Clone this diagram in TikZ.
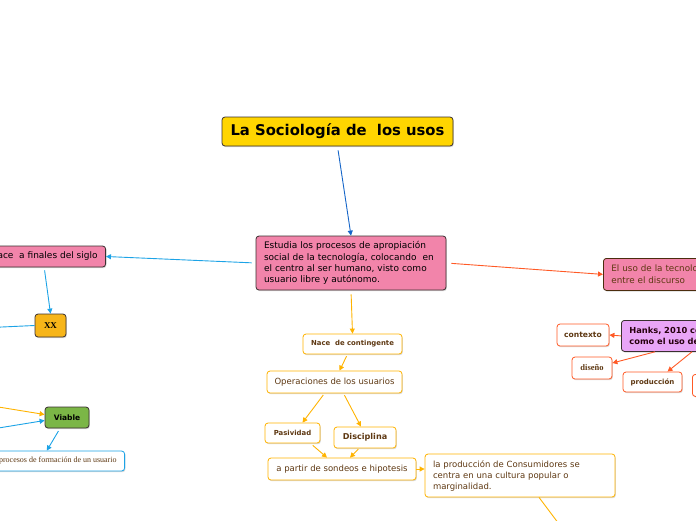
\documentclass[tikz,border=0pt]{standalone}
\usepackage{fontspec}
\setmainfont{DejaVu Sans}
\newfontfamily\serifface{Liberation Serif}
\usetikzlibrary{arrows.meta,positioning,calc,shadows}
\definecolor{TitleYellow}{HTML}{FFD500}
\definecolor{NodePink}{HTML}{F284AA}
\definecolor{XXOrange}{HTML}{F7B519}
\definecolor{ViableGreen}{HTML}{7BB646}
\definecolor{HanksLilac}{HTML}{E9A5F7}
\definecolor{LinkBlue}{HTML}{1CA3E6}
\definecolor{TitleBlue}{HTML}{1565C8}
\definecolor{LinkOrange}{HTML}{FFB300}
\definecolor{LinkRed}{HTML}{FF5A26}
\definecolor{TextBrown}{HTML}{5E3812}
\definecolor{BorderDark}{HTML}{3A3030}

\begin{document}
\begin{tikzpicture}[x=1pt,y=-1pt,
  box/.style={draw=BorderDark,line width=.8pt,rounded corners=3pt,inner sep=0pt,
    drop shadow={shadow xshift=.8pt,shadow yshift=-1.2pt,opacity=.3,fill=gray}},
  leaf/.style={box,fill=white,text=TextBrown},
  arr/.style={line width=.9pt,-{Triangle[length=5pt,width=5pt]}}]
\useasboundingbox (0,0) rectangle (696,520);

% tema central
\node[box,fill=TitleYellow,minimum width=231,minimum height=29,
  font=\fontsize{14.8}{16}\selectfont\bfseries] (title) at (337.5,131.5) {La Sociología de\ \ los usos};
\node[box,fill=NodePink,minimum width=190,minimum height=54,text width=174,align=left,
  font=\fontsize{9}{11.2}\selectfont] (central) at (351,263)
  {Estudia los procesos de apropiación\\social de la tecnología, colocando\ \ en\\el centro al ser humano, visto como\\usuario libre y autónomo.};

% rama izquierda
\node[box,fill=NodePink,anchor=east,minimum height=21,inner xsep=8pt,font=\fontsize{9}{10}\selectfont] (siglo) at (106,256.5) {Nace\ \ a finales del siglo};
\node[box,fill=XXOrange,minimum width=31,minimum height=23,font=\serifface\fontsize{9}{10}\selectfont\bfseries] (xx) at (50.5,325.5) {XX};
\node[box,fill=ViableGreen,minimum width=44,minimum height=21,font=\fontsize{7.5}{8}\selectfont\bfseries] (viable) at (67,417.5) {Viable};
\node[leaf,draw=LinkBlue,anchor=east,minimum height=20,inner xsep=8pt,font=\serifface\fontsize{8}{9}\selectfont] (formacion) at (125,461) {procesos de formación de un usuario};
\coordinate (xxout) at (-20,328);
\coordinate (vin1) at (-20,404);
\coordinate (vin2) at (-20,431);

% rama derecha
\node[box,draw=TextBrown!80!black,fill=NodePink,text=TextBrown,anchor=north west,minimum height=32,
  text width=150,inner xsep=8pt,align=left,font=\fontsize{8.8}{12}\selectfont] (discurso) at (603,258)
  {El uso de la tecnología\\entre el discurso};
\node[box,fill=HanksLilac,draw=BorderDark,text=black!80!purple,anchor=north west,minimum height=31,
  text width=150,inner xsep=8pt,align=left,font=\fontsize{8.3}{10.5}\selectfont\bfseries] (hanks) at (621,320)
  {Hanks, 2010 considera\\como el uso de la};
\node[leaf,draw=LinkRed,minimum width=52,minimum height=22,font=\fontsize{7.6}{8}\selectfont\bfseries] (contexto) at (583,335) {contexto};
\node[leaf,draw=LinkRed,minimum width=40,minimum height=22,font=\serifface\fontsize{8.5}{9}\selectfont\bfseries] (diseno) at (592,368) {diseño};
\node[leaf,draw=LinkRed,minimum width=59,minimum height=20,font=\fontsize{7}{8}\selectfont\bfseries] (produccion) at (652.5,382) {producción};
\node[leaf,draw=LinkRed,anchor=north west,minimum width=30,minimum height=22] (otro) at (692,374) {};

% rama inferior
\node[leaf,draw=LinkOrange,minimum width=99,minimum height=20,font=\fontsize{6.9}{8}\selectfont\bfseries] (nace) at (352.5,344) {Nace\ \ de contingente};
\node[leaf,draw=LinkOrange,minimum width=135,minimum height=22,font=\fontsize{8.5}{9}\selectfont] (operaciones) at (334.5,382) {Operaciones de los usuarios};
\node[leaf,draw=LinkOrange,minimum width=55,minimum height=20,font=\fontsize{6.9}{8}\selectfont\bfseries] (pasividad) at (292.5,433) {Pasividad};
\node[leaf,draw=LinkOrange,minimum width=62,minimum height=21,font=\fontsize{8.1}{9}\selectfont\bfseries] (disciplina) at (365,437.5) {Disciplina};
\node[leaf,draw=LinkOrange,minimum width=148,minimum height=22,font=\fontsize{8.5}{9}\selectfont] (sondeos) at (342,469) {a partir de sondeos e hipotesis};
\node[leaf,draw=LinkOrange,minimum width=190,minimum height=43,text width=174,align=left,
  font=\fontsize{8.5}{11}\selectfont] (consumidores) at (520,475.5)
  {la producción de Consumidores se\\centra en una cultura popular o\\marginalidad.};
\coordinate (abajo) at (562,528);

% conectores
\draw[arr,TitleBlue,shorten <=4pt] (title.south) -- (central.north);
\draw[arr,LinkBlue,shorten <=4pt] (central.west) -- (siglo.east);
\draw[arr,LinkBlue,shorten <=3pt] (siglo.south) -- (xx.north);
\draw[line width=.9pt,LinkBlue] (xx.west) -- (xxout);
\draw[arr,LinkOrange] (vin1) -- ([yshift=3pt]viable.west);
\draw[arr,LinkBlue] (vin2) -- ([yshift=-3pt]viable.west);
\draw[arr,LinkBlue,shorten <=3pt] ([xshift=-7pt]viable.south) -- ([xshift=-11pt]formacion.north);
\draw[arr,LinkRed,shorten <=5pt] (central.east) -- (discurso.west);
\draw[arr,LinkRed] (hanks.west) -- (contexto.east);
\draw[arr,LinkRed] ([xshift=34pt]hanks.south west) -- ([yshift=5pt]diseno.east);
\draw[arr,LinkRed] ([xshift=71pt]hanks.south west) -- ([xshift=15pt]produccion.north);
\draw[arr,LinkOrange,shorten <=4pt] (central.south) -- (nace.north);
\draw[arr,LinkOrange,shorten <=2pt] ([xshift=-5pt]nace.south) -- ([xshift=5pt]operaciones.north);
\draw[arr,LinkOrange,shorten <=2pt] ([xshift=-10pt]operaciones.south) -- ([xshift=10pt]pasividad.north);
\draw[arr,LinkOrange,shorten <=2pt] ([xshift=9pt]operaciones.south) -- ([xshift=-4pt]disciplina.north);
\draw[arr,LinkOrange,shorten <=3pt] ([xshift=18pt]pasividad.south) -- ([xshift=-15pt]sondeos.north);
\draw[arr,LinkOrange,shorten <=1pt] ([xshift=-6pt]disciplina.south) -- ([xshift=8pt]sondeos.north);
\draw[arr,LinkOrange] (sondeos.east) -- (sondeos.east -| consumidores.west);
\draw[arr,LinkOrange] ([xshift=19pt]consumidores.south) -- (abajo);
\end{tikzpicture}
\end{document}
